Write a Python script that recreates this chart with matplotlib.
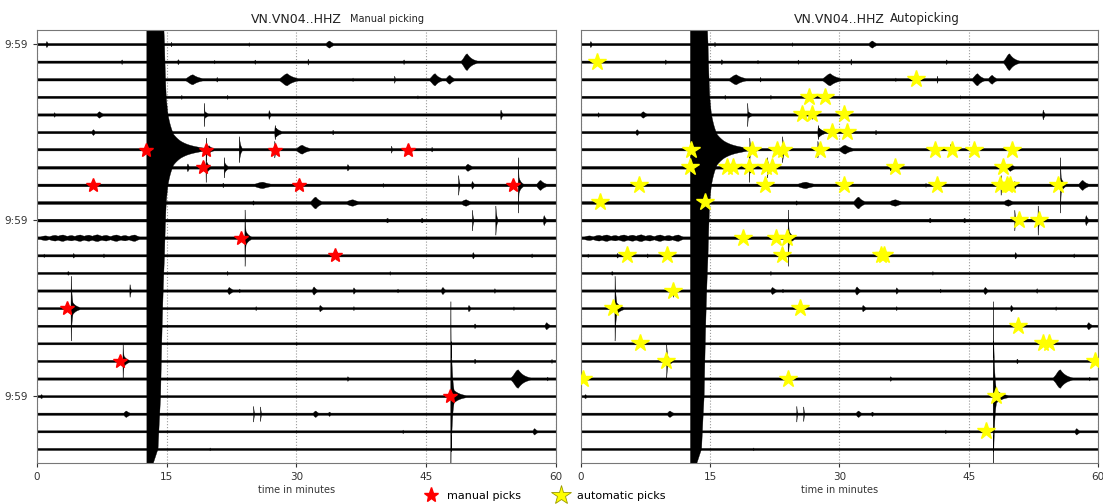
import numpy as np
import matplotlib.pyplot as plt
from matplotlib.lines import Line2D

# helicorder: 24 traces, each 60 minutes, all labelled 9:59
n_lines = 24
ytick_lines = [0, 10, 20]
ytick_labels = ["9:59", "9:59", "9:59"]
xticks = [0, 15, 30, 45, 60]

# background noise half-width per trace (in trace spacings)
base_noise = [0.065, 0.065, 0.07, 0.065, 0.065, 0.065, 0.07, 0.075, 0.075, 0.08,
              0.08, 0.075, 0.065, 0.06, 0.065, 0.06, 0.06, 0.06, 0.06, 0.065,
              0.06, 0.065, 0.06, 0.06]

# events: line, onset minute, half amplitude, rise, decay (minutes)
ev_line = [0, 0, 0, 0,
           1, 1, 1, 1, 1, 1, 1,
           2, 2, 2, 2, 2, 2, 2,
           3, 3, 3,
           4, 4, 4, 4, 4, 4,
           5, 5, 5, 5,
           6, 6, 6, 6, 6, 6, 6, 6, 6,
           7, 7, 7, 7, 7, 7, 7,
           8, 8, 8, 8, 8, 8, 8, 8, 8,
           9, 9, 9, 9,
           10, 10, 10, 10, 10,
           11, 11, 11, 11, 11, 11, 11, 11, 11, 11, 11, 11, 11,
           12, 12, 12, 12, 12, 12,
           13, 13, 13,
           14, 14, 14, 14, 14, 14, 14, 14,
           15, 15, 15, 15, 15, 15, 15,
           16, 16,
           17,
           18, 18, 18, 18,
           19, 19, 19,
           20, 20, 20, 20,
           21, 21, 21, 21, 21,
           22, 22,
           23]
ev_min = [1.1, 15.5, 24.5, 33.8,
          9.8, 16.3, 20.5, 25.2, 31.3, 42.4, 49.7,
          18.0, 20.8, 28.9, 41.3, 46.0, 47.7, 36.5,
          16.7, 22.0, 44.0,
          2.0, 7.2, 19.3, 26.8, 53.6, 19.3,
          6.5, 27.5, 34.2, 27.6,
          19.6, 19.6, 23.4, 27.5, 30.7, 41.0, 42.9, 45.7, 19.9,
          17.4, 19.5, 21.6, 35.9, 49.8, 19.6, 21.7,
          21.5, 26.1, 48.7, 50.3, 55.6, 58.2, 55.7, 6.4, 40.0,
          32.2, 36.5, 49.6, 25.0,
          50.3, 53.0, 58.6, 40.5, 44.5,
          1.0, 2.1, 3.0, 4.0, 5.0, 6.0, 7.0, 8.0, 9.2, 10.2, 11.3, 24.0, 24.1,
          0.8, 4.2, 7.7, 34.6, 50.4, 57.2,
          3.6, 22.0, 40.8,
          10.7, 22.2, 23.4, 32.0, 36.6, 41.7, 46.9, 52.9,
          3.9, 3.95, 25.3, 32.7, 36.6, 49.9, 55.1,
          50.6, 58.9,
          30.0,
          9.9, 9.95, 50.6, 59.5,
          35.9, 55.6, 59.0,
          0.5, 47.8, 47.85, 47.9,
          10.3, 25.0, 25.8, 32.2, 33.8,
          42.3, 57.5,
          20.0]
ev_amp = [0.17, 0.13, 0.1, 0.2,
          0.13, 0.14, 0.1, 0.12, 0.17, 0.13, 0.47,
          0.28, 0.13, 0.34, 0.2, 0.34, 0.25, 0.1,
          0.11, 0.11, 0.09,
          0.13, 0.18, 0.66, 0.25, 0.28, 0.22,
          0.16, 0.4, 0.13, 0.25,
          0.66, 0.3, 0.76, 0.5, 0.25, 0.2, 0.3, 0.13, 0.22,
          0.22, 0.9, 0.6, 0.18, 0.2, 0.3, 0.25,
          0.13, 0.18, 0.6, 0.22, 1.77, 0.28, 0.4, 0.13, 0.11,
          0.33, 0.18, 0.18, 0.12,
          0.6, 0.85, 0.28, 0.13, 0.13,
          0.13, 0.16, 0.18, 0.15, 0.18, 0.17, 0.19, 0.16, 0.18, 0.15, 0.18, 1.7, 0.4,
          0.1, 0.13, 0.11, 0.25, 0.18, 0.11,
          0.1, 0.11, 0.1,
          0.38, 0.2, 0.11, 0.23, 0.18, 0.11, 0.2, 0.13,
          1.85, 0.45, 0.11, 0.18, 0.11, 0.18, 0.1,
          0.13, 0.2,
          0.08,
          0.97, 0.35, 0.13, 0.11,
          0.13, 0.52, 0.11,
          0.11, 6.2, 3.2, 0.5,
          0.18, 0.45, 0.45, 0.18, 0.12,
          0.1, 0.18,
          0.08]
ev_rise = [0.1, 0.05, 0.1, 0.4,
           0.1, 0.1, 0.1, 0.1, 0.02, 0.1, 0.5,
           0.7, 0.1, 0.7, 0.02, 0.5, 0.4, 0.1,
           0.1, 0.1, 0.1,
           0.1, 0.3, 0.01, 0.05, 0.05, 0.01,
           0.2, 0.05, 0.1, 0.01,
           0.01, 0.01, 0.01, 0.01, 0.6, 0.02, 0.02, 0.1, 0.01,
           0.1, 0.01, 0.01, 0.1, 0.3, 0.01, 0.01,
           0.1, 1.0, 0.01, 0.1, 0.01, 0.4, 0.01, 0.1, 0.1,
           0.5, 0.8, 0.6, 0.2,
           0.01, 0.01, 0.1, 0.2, 0.2,
           0.9, 0.9, 0.9, 0.9, 0.9, 0.9, 0.9, 0.9, 0.9, 0.9, 0.9, 0.01, 0.01,
           0.1, 0.1, 0.1, 0.05, 0.1, 0.1,
           0.2, 0.1, 0.1,
           0.01, 0.2, 0.1, 0.2, 0.1, 0.1, 0.2, 0.1,
           0.01, 0.01, 0.1, 0.1, 0.1, 0.1, 0.1,
           0.1, 0.2,
           0.2,
           0.01, 0.01, 0.1, 0.1,
           0.1, 0.6, 0.1,
           0.2, 0.01, 0.01, 0.01,
           0.3, 0.01, 0.01, 0.3, 0.2,
           0.1, 0.2,
           0.2]
ev_decay = [0.15, 0.1, 0.1, 0.4,
            0.1, 0.15, 0.1, 0.1, 0.1, 0.1, 0.6,
            0.8, 0.1, 0.8, 0.1, 0.5, 0.4, 0.1,
            0.1, 0.1, 0.1,
            0.1, 0.4, 0.06, 0.15, 0.15, 0.4,
            0.2, 0.15, 0.1, 0.5,
            0.08, 0.6, 0.15, 0.12, 0.7, 0.1, 0.2, 0.1, 0.4,
            0.15, 0.05, 0.1, 0.2, 0.5, 0.3, 0.3,
            0.1, 1.0, 0.08, 0.2, 0.06, 0.5, 0.3, 0.1, 0.1,
            0.5, 0.8, 0.6, 0.2,
            0.08, 0.1, 0.2, 0.2, 0.2,
            0.9, 0.9, 0.9, 0.9, 0.9, 0.9, 0.9, 0.9, 0.9, 0.9, 0.6, 0.08, 0.4,
            0.1, 0.15, 0.1, 0.2, 0.15, 0.1,
            0.2, 0.1, 0.1,
            0.1, 0.4, 0.1, 0.3, 0.2, 0.1, 0.25, 0.1,
            0.12, 0.5, 0.1, 0.3, 0.1, 0.2, 0.1,
            0.15, 0.3,
            0.2,
            0.1, 0.4, 0.15, 0.1,
            0.2, 0.7, 0.1,
            0.2, 0.04, 0.15, 0.8,
            0.4, 0.06, 0.06, 0.3, 0.2,
            0.1, 0.3,
            0.2]

# large clipped earthquake on trace 6: envelope knots (minute, half amplitude)
quake_line = 6
quake_min = [12.7, 14.0, 14.3, 14.75, 14.95, 15.15, 15.4, 15.8, 16.6, 17.4, 18.6, 19.6]
quake_amp = [19.0, 17.0, 14.0, 6.0, 3.0, 2.0, 1.44, 0.87, 0.49, 0.3, 0.15, 0.07]

# picks (minute, trace line)
manual_min = [12.6, 19.5, 27.5, 42.9, 19.2, 6.5, 30.3, 55.0, 23.6, 34.5, 3.5, 9.6, 47.8]
manual_line = [6, 6, 6, 6, 7, 8, 8, 8, 11, 12, 15, 18, 20]

auto_min = [1.9, 38.9, 26.5, 28.3, 25.7, 26.8, 30.5, 29.1, 30.9,
            12.8, 19.9, 22.7, 23.4, 27.7, 41.1, 43.1, 45.6, 50.0,
            12.6, 17.0, 17.7, 19.5, 21.5, 22.2, 36.4, 49.0,
            6.7, 21.4, 30.5, 41.3, 48.6, 49.4, 49.8, 55.4,
            2.2, 14.4, 50.8, 53.2, 18.8, 22.6, 23.9,
            5.3, 10.0, 23.3, 34.8, 35.2, 10.7, 3.7, 25.4, 50.7,
            6.8, 53.6, 54.3, 9.9, 59.7, 0.2, 24.0, 48.2, 47.0]
auto_line = [1, 2, 3, 3, 4, 4, 4, 5, 5,
             6, 6, 6, 6, 6, 6, 6, 6, 6,
             7, 7, 7, 7, 7, 7, 7, 7,
             8, 8, 8, 8, 8, 8, 8, 8,
             9, 9, 10, 10, 11, 11, 11,
             12, 12, 12, 12, 12, 14, 15, 15, 16,
             17, 17, 17, 18, 18, 19, 19, 20, 22]

t = np.linspace(0, 60, 5000)


def envelope(line):
    env = np.full_like(t, base_noise[line])
    for ln, t0, a, r, d in zip(ev_line, ev_min, ev_amp, ev_rise, ev_decay):
        if ln != line:
            continue
        dt = t - t0
        shape = np.where(dt < 0, np.exp(-(dt / r) ** 2), np.exp(-np.clip(dt, 0, None) / d))
        env = np.maximum(env, a * shape)
    if line == quake_line:
        q = np.exp(np.interp(t, quake_min, np.log(quake_amp)))
        q[t < quake_min[0]] = 0
        q[t > quake_min[-1]] = 0
        env = np.maximum(env, q)
    return env


fig = plt.figure(figsize=(11.03, 5.04), dpi=100)
ax1 = fig.add_axes([0.0335, 0.0813, 0.4705, 0.8592])
ax2 = fig.add_axes([0.5267, 0.0813, 0.4687, 0.8592])

envs = [envelope(i) for i in range(n_lines)]

for ax in (ax1, ax2):
    for i in range(n_lines):
        ax.fill_between(t, i - envs[i], i + envs[i], color="black", lw=0.25, zorder=2)
    ax.set_xlim(0, 60)
    ax.set_ylim(n_lines - 0.2, -0.8)
    ax.set_xticks(xticks)
    ax.grid(axis="x", ls=":", color="#999999", lw=0.8, zorder=1)
    ax.tick_params(labelsize=7.5, colors="#333333", length=3)
    ax.set_xlabel("time in minutes", fontsize=7, color="#333333", labelpad=2)
    for s in ax.spines.values():
        s.set_color("#777777")

ax1.set_yticks(ytick_lines)
ax1.set_yticklabels(ytick_labels)
ax2.set_yticks([])

ax1.plot(manual_min, manual_line, ls="none", marker="*", color="red", ms=10, zorder=5)
ax2.plot(auto_min, auto_line, ls="none", marker="*", color="yellow", ms=13, zorder=5)

ax1.set_title("VN.VN04..HHZ", fontsize=9, pad=5, color="#222222")
ax1.text(0.603, 1.013, "Manual picking", transform=ax1.transAxes, fontsize=7, va="bottom", color="#222222")
ax2.set_title("VN.VN04..HHZ", fontsize=9, pad=5, color="#222222")
ax2.text(0.597, 1.012, "Autopicking", transform=ax2.transAxes, fontsize=8.5, va="bottom", color="#222222")

handles = [Line2D([], [], ls="none", marker="*", color="red", ms=11),
           Line2D([], [], ls="none", marker="*", color="yellow", mec="#999900", mew=0.6, ms=15)]
fig.legend(handles, ["manual picks", "automatic picks"], loc="center",
           bbox_to_anchor=(0.494, 0.016), ncol=2, frameon=False, fontsize=8,
           handlelength=1.2, handletextpad=0.8, columnspacing=3.0)

fig.savefig("out.png", dpi=100)
